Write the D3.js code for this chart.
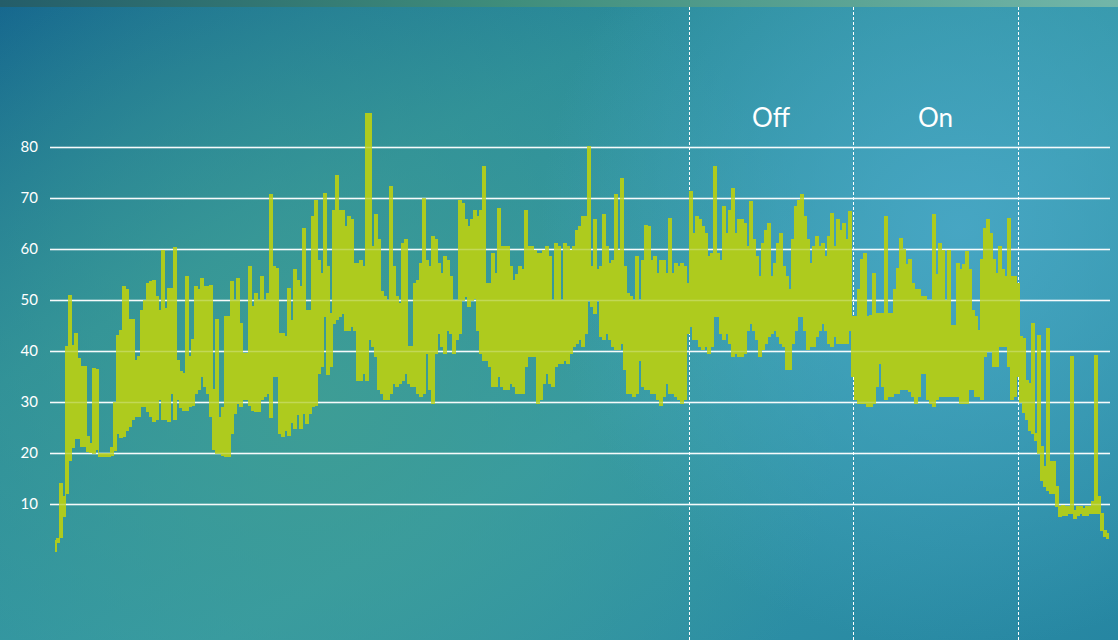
<!DOCTYPE html>
<html>
<head>
<meta charset="utf-8">
<script src="https://cdn.jsdelivr.net/npm/d3@7"></script>
<style>
  html, body { margin: 0; padding: 0; overflow: hidden; }
  svg { display: block; }
</style>
</head>
<body>
<div id="chart"></div>
<script>
const WIDTH = 1118
const HEIGHT = 640
const PLOT = { LEFT: 50, RIGHT: 1110, TOP: 147, ZERO: 555 }
const LINE_START = 55
const LINE_END = 1108

const yTicks = [10, 20, 30, 40, 50, 60, 70, 80]
const phaseBreaks = [211.3, 266, 321]
const phaseLabels = ["Off", "On"]

// per sample (~3px) the upper and lower reading of the trace
const highs = [
  2.9, 3.3, 14, 11.4, 40.8, 50.8, 41, 43.5, 38.6, 36.9,
  36.9, 23.2, 21.9, 36.6, 36.3, 20, 20, 20, 20, 21,
  30, 43.1, 44, 52.6, 52.1, 46.1, 46.1, 38.2, 38.9, 48,
  50, 53.3, 53.6, 53.9, 50.7, 48, 59.8, 48.4, 52.3, 52.3,
  60.3, 38.2, 36, 35.6, 54.6, 38.9, 42.2, 52.6, 52, 54.2,
  52.6, 52.6, 52.9, 32.4, 46.1, 27, 29, 46.7, 46.7, 53.6,
  50, 54.2, 45.4, 39.5, 39.5, 56.5, 48.7, 51.3, 50, 54.6,
  50, 51.3, 70.6, 56.5, 56.2, 43.5, 43.5, 42.8, 52.3, 46,
  55.9, 53.9, 52.6, 64.1, 48, 48, 66.3, 69.6, 57.8, 55.2,
  70.9, 56.5, 47.4, 67.6, 74.5, 67.6, 67.6, 64.4, 66.3, 65.7,
  57.2, 57.2, 57.8, 56.5, 86.6, 86.6, 60.5, 66.7, 61.8, 51.6,
  50.7, 50, 72.2, 56.5, 50.7, 49.3, 61.1, 61.8, 40.8, 40.8,
  53.3, 53.9, 57.2, 69.9, 57.8, 56.5, 62.4, 61.8, 57.2, 55.2,
  58.5, 57.8, 54.6, 50, 50, 69.6, 69, 65.7, 64.4, 65.7,
  67.6, 66.3, 67.6, 76.1, 53.3, 53.3, 59.2, 55.2, 68, 60.5,
  60.5, 60.5, 56.5, 53.9, 55, 56.5, 55.9, 67.6, 60.5, 60.5,
  59.8, 59.2, 59.2, 59.8, 60.5, 58.5, 50, 61.1, 60.5, 50,
  61.1, 60.5, 59.8, 60.5, 63.7, 64.4, 66.3, 66.3, 80.1, 56.5,
  65.7, 55.9, 56.5, 66.7, 60.5, 57.2, 57.8, 70.6, 59.8, 73.9,
  56.5, 51.3, 50.7, 50, 58.5, 50, 57.8, 64.7, 64.4, 57.8,
  58.5, 55.2, 57.8, 57.8, 55.2, 66, 55.2, 57.2, 56.5, 57.2,
  56.5, 53.3, 71.2, 63.1, 66.3, 65.7, 64.4, 63.1, 58.5, 59.2,
  76.1, 59.2, 57.8, 68.3, 63.1, 67.6, 71.9, 63.1, 65.7, 65.7,
  65, 60.5, 69.3, 61.8, 58.5, 54.6, 61.1, 63.7, 65, 54.6,
  57.2, 61.1, 63.1, 56.5, 54.6, 52, 61.8, 68.3, 69.6, 70.6,
  66.3, 61.8, 57.2, 60.5, 62.4, 60.5, 61.1, 58.5, 62.4, 67,
  60.5, 65.7, 63.7, 65, 61.8, 67.3, 46.7, 46.7, 52, 58,
  59.2, 46.7, 47, 55.2, 47.4, 47.4, 47.4, 66.3, 47.4, 47.4,
  52, 56.2, 62.1, 60, 57, 58, 53.3, 52, 52, 50.7,
  50.7, 50, 50, 66.7, 55, 61.1, 59.8, 50, 59.8, 45,
  45, 57.2, 55.9, 57, 59.5, 55.9, 48, 46.7, 44, 58,
  64, 65.7, 63.1, 58, 55.2, 60.5, 56, 54.6, 66, 54.6,
  54.6, 53.3, 42.8, 42.5, 34.3, 33.7, 45.4, 23.9, 43.1, 21.2,
  17.3, 44.4, 18.3, 18.3, 13.4, 9.5, 9.8, 9.5, 9.5, 38.9,
  8.8, 9.5, 9.5, 9.2, 9.5, 9.5, 10.5, 39.2, 11.4, 8.2,
  4.9, 4.2
]

const lows = [
  0.6, 2.5, 3.5, 7.5, 12, 18.6, 21, 22.9, 22.9, 21.2,
  21.2, 20.3, 20.1, 20, 20.6, 19.3, 19.3, 19.3, 19.3, 19.5,
  20.5, 23.9, 23, 23.2, 24.5, 25.2, 26.5, 27.1, 27.1, 29.1,
  29.1, 28.1, 27.1, 26.1, 26.5, 30.4, 26.5, 26.5, 26.1, 31.7,
  26.5, 30.4, 29, 28.4, 28.4, 29.1, 29.4, 31.7, 32.4, 35,
  33, 31.7, 27.1, 20.6, 19.9, 19.9, 19.6, 19.3, 19.3, 23.9,
  27.8, 29.7, 29.1, 30.4, 30.4, 29.4, 28.4, 28.1, 28.1, 30.4,
  31, 31.7, 27, 35, 35, 23.9, 23.2, 24.5, 23.5, 26,
  24.8, 27.5, 24.8, 27.8, 25.8, 27.8, 29.1, 29.4, 35.6, 36.9,
  46.7, 35.3, 36.9, 45.4, 46.1, 46.7, 47.4, 44.1, 44.1, 44.8,
  44.1, 34.3, 34.3, 35.6, 34.3, 42.2, 40.8, 38.9, 32.4, 31.7,
  30.4, 30.4, 31.7, 33.7, 33, 33.7, 34.3, 35.6, 33.7, 33,
  33, 31.7, 31, 31.7, 39.5, 32.4, 29.7, 39.5, 43.5, 40.8,
  39.5, 44.1, 43.5, 39.5, 42.2, 43.5, 50, 50.7, 48.7, 50,
  50.3, 44.1, 39.5, 38.2, 38.2, 36.9, 33, 33, 35, 33,
  32.4, 32.4, 33.7, 33, 31.7, 31.7, 31.7, 36.9, 38.9, 38.9,
  38.9, 29.7, 30.4, 33.7, 35.6, 33.7, 33, 36.9, 37.6, 37.6,
  38.2, 37.6, 39.5, 40.8, 41.5, 42.2, 40.8, 43.5, 50, 48.7,
  47.4, 50, 42.8, 42.2, 43.5, 42.2, 40.8, 40.2, 40.2, 41.5,
  36.3, 31.7, 31.7, 31, 31.7, 38.2, 33, 32.4, 32.4, 31.7,
  31.7, 30.4, 29.4, 31, 33.7, 31.7, 31.7, 31, 30.4, 29.7,
  30.4, 43.5, 44.8, 42.2, 42.2, 40.8, 40.2, 40.8, 39.5, 40.8,
  46.7, 46.7, 43.5, 42.2, 43.5, 41.5, 38.9, 39.5, 38.9, 38.9,
  39.5, 44.1, 45.4, 44.1, 42.2, 38.9, 40.2, 41.5, 42.8, 43.5,
  44.1, 42.8, 41.5, 40.8, 36.3, 36.3, 41.5, 44.1, 46.7, 46.7,
  44.1, 40.2, 40.8, 40.8, 42.8, 44.1, 45.4, 44.1, 41.5, 40.8,
  42.8, 41.5, 41.5, 41.5, 41.5, 44, 35, 30.4, 29.7, 29.7,
  29.7, 29.1, 29.1, 29.7, 33, 37.6, 33, 30.4, 31, 31,
  31.7, 31.7, 32.4, 32.4, 32.4, 32, 31, 29.7, 31, 35.6,
  35.6, 30.4, 29.7, 29.1, 30.4, 31, 31, 31, 31, 31,
  31, 31, 29.7, 29.7, 29.7, 32.4, 32.4, 31, 31, 30.4,
  39, 40, 40, 37, 37, 40.8, 40.8, 40.8, 37, 30.4,
  31, 35, 30, 28, 26.5, 24.5, 23.9, 22.5, 19.9, 14.7,
  13.4, 12.7, 12.1, 12.1, 9.5, 7.5, 7.8, 7.8, 8.2, 8.2,
  7.2, 7.8, 8.2, 7.8, 7.8, 8.2, 8.2, 8.2, 8.2, 4.9,
  3.6, 3.3
]

const svg = d3.select("#chart")
              .append("svg")
              .attr("width", WIDTH)
              .attr("height", HEIGHT)

function drawBackground() {
  const defs = svg.append("defs")

  const base = defs.append("linearGradient")
                   .attr("id", "bgBase")
                   .attr("x1", 0).attr("y1", 0)
                   .attr("x2", 1).attr("y2", 1)
  base.append("stop").attr("offset", 0).attr("stop-color", "#15668e")
  base.append("stop").attr("offset", 0.3).attr("stop-color", "#2b8c9a")
  base.append("stop").attr("offset", 0.6).attr("stop-color", "#3499a8")
  base.append("stop").attr("offset", 1).attr("stop-color", "#2686a2")

  const green = defs.append("radialGradient")
                    .attr("id", "bgGreen")
                    .attr("gradientUnits", "userSpaceOnUse")
                    .attr("cx", 320).attr("cy", 400).attr("r", 520)
  green.append("stop").attr("offset", 0).attr("stop-color", "#3f9e94").attr("stop-opacity", 0.9)
  green.append("stop").attr("offset", 1).attr("stop-color", "#3f9e94").attr("stop-opacity", 0)

  const blue = defs.append("radialGradient")
                   .attr("id", "bgBlue")
                   .attr("gradientUnits", "userSpaceOnUse")
                   .attr("cx", 960).attr("cy", 230).attr("r", 420)
  blue.append("stop").attr("offset", 0).attr("stop-color", "#4aa8c8").attr("stop-opacity", 0.85)
  blue.append("stop").attr("offset", 1).attr("stop-color", "#4aa8c8").attr("stop-opacity", 0)

  const band = defs.append("linearGradient")
                   .attr("id", "band")
  band.append("stop").attr("offset", 0).attr("stop-color", "#245d69")
  band.append("stop").attr("offset", 0.45).attr("stop-color", "#3f8d7b")
  band.append("stop").attr("offset", 1).attr("stop-color", "#72b6a9")

  svg.append("rect").attr("width", WIDTH).attr("height", HEIGHT).attr("fill", "url(#bgBase)")
  svg.append("rect").attr("width", WIDTH).attr("height", HEIGHT).attr("fill", "url(#bgGreen)")
  svg.append("rect").attr("width", WIDTH).attr("height", HEIGHT).attr("fill", "url(#bgBlue)")
  svg.append("rect").attr("width", WIDTH).attr("height", 7).attr("fill", "url(#band)")
}

drawBackground()

const x = d3.scaleLinear()
            .domain([0, highs.length - 1])
            .range([LINE_START, LINE_END])
const y = d3.scaleLinear()
            .domain([0, 80])
            .range([PLOT.ZERO, PLOT.TOP])

function gridAxis() {
  return d3.axisLeft(y)
           .tickValues(yTicks)
           .tickSize(-(PLOT.RIGHT - PLOT.LEFT))
           .tickPadding(12)
}

const yAxisGroup = svg.append("g")
                      .attr("transform", `translate(${PLOT.LEFT}, 0)`)
                      .call(gridAxis())
yAxisGroup.select(".domain").remove()
yAxisGroup.selectAll(".tick line")
          .attr("stroke", "#ffffff")
          .attr("stroke-width", 1.5)
          .attr("stroke-opacity", 0.95)
yAxisGroup.selectAll(".tick text")
          .attr("fill", "#ffffff")
          .attr("font-family", "Lato, 'DejaVu Sans', sans-serif")
          .attr("font-size", 15)

// phase separators
svg.append("g")
   .selectAll("line")
   .data(phaseBreaks)
   .join("line")
   .attr("x1", d => Math.round(x(d)) + 0.5)
   .attr("x2", d => Math.round(x(d)) + 0.5)
   .attr("y1", 7)
   .attr("y2", HEIGHT)
   .attr("stroke", "#ffffff")
   .attr("stroke-width", 1)
   .attr("stroke-dasharray", "3,2")

svg.append("g")
   .selectAll("text")
   .data(phaseLabels)
   .join("text")
   .attr("x", (d, i) => (x(phaseBreaks[i]) + x(phaseBreaks[i + 1])) / 2)
   .attr("y", 127)
   .attr("text-anchor", "middle")
   .attr("fill", "#ffffff")
   .attr("font-family", "Lato, 'DejaVu Sans', sans-serif")
   .attr("font-size", 26)
   .text(d => d)

const trace = d3.area()
                .x((d, i) => x(i))
                .y0((d, i) => y(lows[i]))
                .y1(d => y(d))
                .curve(d3.curveStep)

svg.append("path")
   .datum(highs)
   .attr("fill", "#aecb1e")
   .attr("stroke", "#aecb1e")
   .attr("stroke-width", 1)
   .attr("stroke-linejoin", "miter")
   .attr("shape-rendering", "crispEdges")
   .attr("d", trace)

// faint gridlines showing through the trace
const overGrid = svg.append("g")
                    .attr("transform", `translate(${PLOT.LEFT}, 0)`)
                    .call(gridAxis().tickFormat(""))
overGrid.select(".domain").remove()
overGrid.selectAll(".tick line")
        .attr("stroke", "#ffffff")
        .attr("stroke-width", 1.5)
        .attr("stroke-opacity", 0.25)
</script>
</body>
</html>
